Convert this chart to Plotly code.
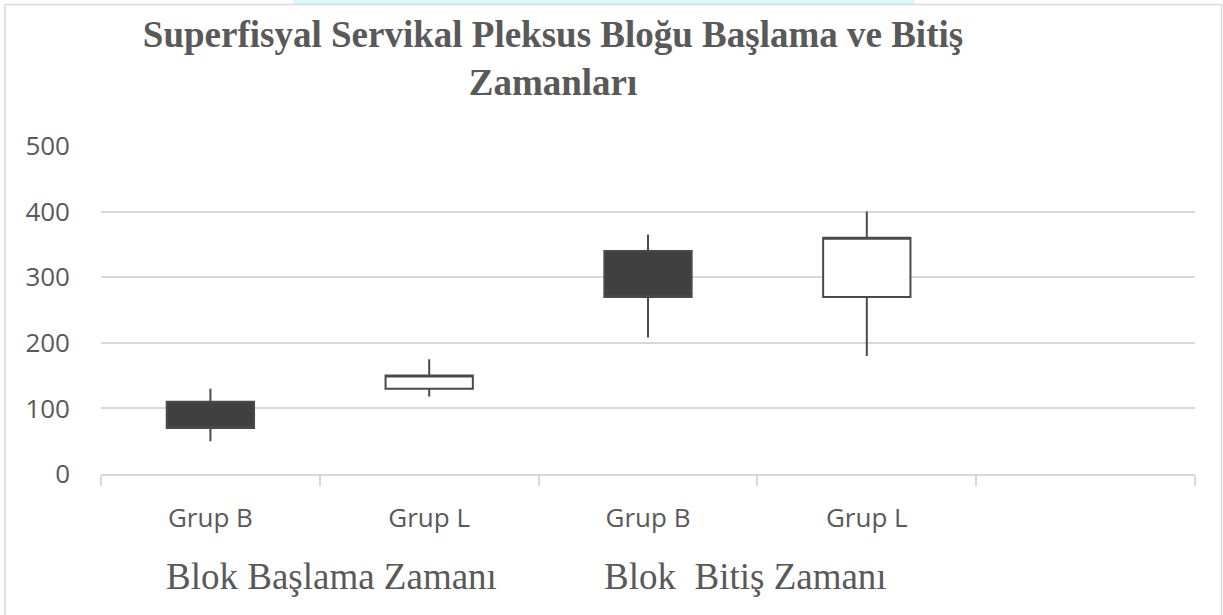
import plotly.graph_objects as go

# ---- data ----
categories = ["Grup B", "Grup L", "Grup B", "Grup L"]
group_labels = ["Blok Başlama Zamanı", "Blok\u00a0 Bitiş Zamanı"]
open_vals = [110, 130, 340, 270]
high_vals = [130, 175, 365, 400]
low_vals = [50, 118, 208, 180]
close_vals = [70, 150, 270, 360]
y_ticks = [0, 100, 200, 300, 400, 500]
title_text = "Superfisyal Servikal Pleksus Bloğu Başlama ve Bitiş<br>Zamanları"

x_pos = list(range(len(categories)))
n_slots = len(categories) + 1  # one empty category slot at the end, as in the original

DARK = "#404040"
LINE = "#4a4a4a"
GRID = "#d9d9d9"
TXT = "#595959"

fig = go.Figure()
fig.add_trace(go.Candlestick(
    x=x_pos,
    open=open_vals, high=high_vals, low=low_vals, close=close_vals,
    increasing=dict(fillcolor="#ffffff", line=dict(color=LINE, width=2)),
    decreasing=dict(fillcolor=DARK, line=dict(color=LINE, width=2)),
    whiskerwidth=0,
    showlegend=False,
))

W, H = 1223, 615
L, R, T, B = 101, 28, 146, 141
pw, ph = W - L - R, H - T - B

def px_x(px):
    return (px - L) / pw

def px_y(py):
    return (H - B - py) / ph

annotations = []
for i, lab in enumerate(group_labels):
    cx = [0.552, 2.446][i]
    annotations.append(dict(
        x=cx, xref="x", y=px_y(576), yref="paper",
        text=lab, showarrow=False, xanchor="center", yanchor="middle",
        font=dict(family="Liberation Serif", size=37, color=TXT),
    ))

shapes = [
    # page artefacts above the chart frame
    dict(type="rect", xref="paper", yref="paper",
         x0=px_x(293), x1=px_x(915), y0=px_y(4), y1=px_y(0),
         fillcolor="#d6fafc", line=dict(width=0), layer="below"),
    # chart frame
    dict(type="rect", xref="paper", yref="paper",
         x0=px_x(5), x1=px_x(1221.5), y0=px_y(620), y1=px_y(4.5),
         fillcolor="rgba(0,0,0,0)", line=dict(color="#d9d9d9", width=1.5)),
]

fig.update_layout(
    width=W, height=H,
    margin=dict(l=L, r=R, t=T, b=B, autoexpand=False),
    paper_bgcolor="#ffffff", plot_bgcolor="#ffffff",
    boxgap=0.43,
    title=dict(
        text=title_text, x=553 / W, xanchor="center", xref="container",
        y=1 - 47 / H, yanchor="top", yref="container",
        font=dict(family="Liberation Serif", size=37, color=TXT, weight="bold"),
    ),
    xaxis=dict(
        type="linear", range=[-0.5, n_slots - 0.5],
        tickmode="array", tickvals=x_pos, ticktext=categories,
        ticks="", showgrid=False, zeroline=False,
        showline=True, linecolor=GRID, linewidth=1.5,
        tickfont=dict(family="Open Sans", size=26, color=TXT),
        ticklabelstandoff=20,
        minor=dict(tickmode="linear", tick0=0.5, dtick=1, ticks="outside",
                   ticklen=10, tickcolor=GRID, tickwidth=1.5, showgrid=False),
        rangeslider=dict(visible=False), fixedrange=True,
    ),
    yaxis=dict(
        range=[0, 500], tickmode="array", tickvals=y_ticks,
        showgrid=True, gridcolor=GRID, gridwidth=1.5,
        zeroline=False, showline=False, ticks="",
        tickfont=dict(family="Open Sans", size=26, color=TXT),
        ticklabelstandoff=30, fixedrange=True,
    ),
    annotations=annotations,
    shapes=shapes,
)

fig.write_html("out.html", config={"displayModeBar": False},
               post_script="document.body.style.margin='0';")
